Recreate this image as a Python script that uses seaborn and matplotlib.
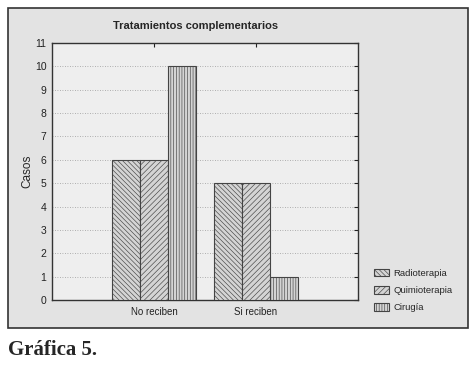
import matplotlib
matplotlib.use("Agg")
import matplotlib.pyplot as plt
from matplotlib.patches import Rectangle, Patch
import seaborn as sns
import pandas as pd

categories = ["No reciben", "Si reciben"]
treatments = ["Radioterapia", "Quimioterapia", "Cirugía"]
radioterapia = [6, 5]
quimioterapia = [6, 5]
cirugia = [10, 1]
hatches = ["\\" * 7, "/" * 6, "|" * 6]

rows = []
for t, vals in zip(treatments, [radioterapia, quimioterapia, cirugia]):
    for c, v in zip(categories, vals):
        rows.append({"cat": c, "trat": t, "val": v})
df = pd.DataFrame(rows)

sns.set_style("white")
plt.rcParams["font.family"] = ["Liberation Sans", "DejaVu Sans"]
plt.rcParams["hatch.linewidth"] = 0.45
plt.rcParams["hatch.color"] = "#444444"

W, H = 475, 371
fig = plt.figure(figsize=(W / 100, H / 100), dpi=100)
fig.patch.set_facecolor("white")
fig.patches.append(Rectangle((8 / W, 1 - 328 / H), (468 - 8) / W, (328 - 8) / H,
                             transform=fig.transFigure, facecolor="#e3e3e3",
                             edgecolor="#333333", linewidth=1.2, zorder=-10))

ax = fig.add_axes([52 / W, 1 - 300 / H, (358 - 52) / W, (300 - 43) / H])
ax.set_zorder(5)
ax.set_facecolor("#eeeeee")
sns.barplot(data=df, x="cat", y="val", hue="trat", order=categories,
            hue_order=treatments, palette=["#d4d4d4"] * 3, width=0.82,
            edgecolor="#444444", linewidth=0.8, ax=ax, legend=False, zorder=3)
for cont, h in zip(ax.containers, hatches):
    for bar in cont:
        bar.set_hatch(h)

ax.set_xlim(-1, 2)
ax.set_ylim(0, 11)
ax.set_yticks(range(0, 12))
ax.yaxis.grid(True, linestyle=(0, (1, 2)), color="#999999", linewidth=0.6, zorder=0)
ax.set_axisbelow(True)
ax.tick_params(axis="both", direction="in", length=3, labelsize=7.5, colors="#222222",
               top=True, right=True, pad=4)
ax.tick_params(axis="x", length=3, pad=5, labelsize=7)
for s in ax.spines.values():
    s.set_color("#333333")
    s.set_linewidth(1.0)
ax.set_xlabel("")
ax.set_ylabel("Casos", fontsize=8.5, labelpad=1)
ax.set_title("Tratamientos complementarios", fontsize=8, fontweight="bold",
             x=0.47, pad=10)

handles = [Patch(facecolor="#d4d4d4", edgecolor="#444444", hatch=h, linewidth=0.8)
           for h in hatches]
fig.legend(handles, treatments, loc="upper left", bbox_to_anchor=(365 / W, 1 - 260 / H),
           frameon=False, fontsize=6.8, handlelength=1.6, handleheight=0.9,
           labelspacing=0.85, handletextpad=0.5)

fig.text(8 / W, 1 - 350 / H, "Gráfica 5.", fontsize=15, fontweight="bold",
         family=["Liberation Serif", "DejaVu Serif"], va="center", ha="left")

fig.savefig("out.png", dpi=100)
